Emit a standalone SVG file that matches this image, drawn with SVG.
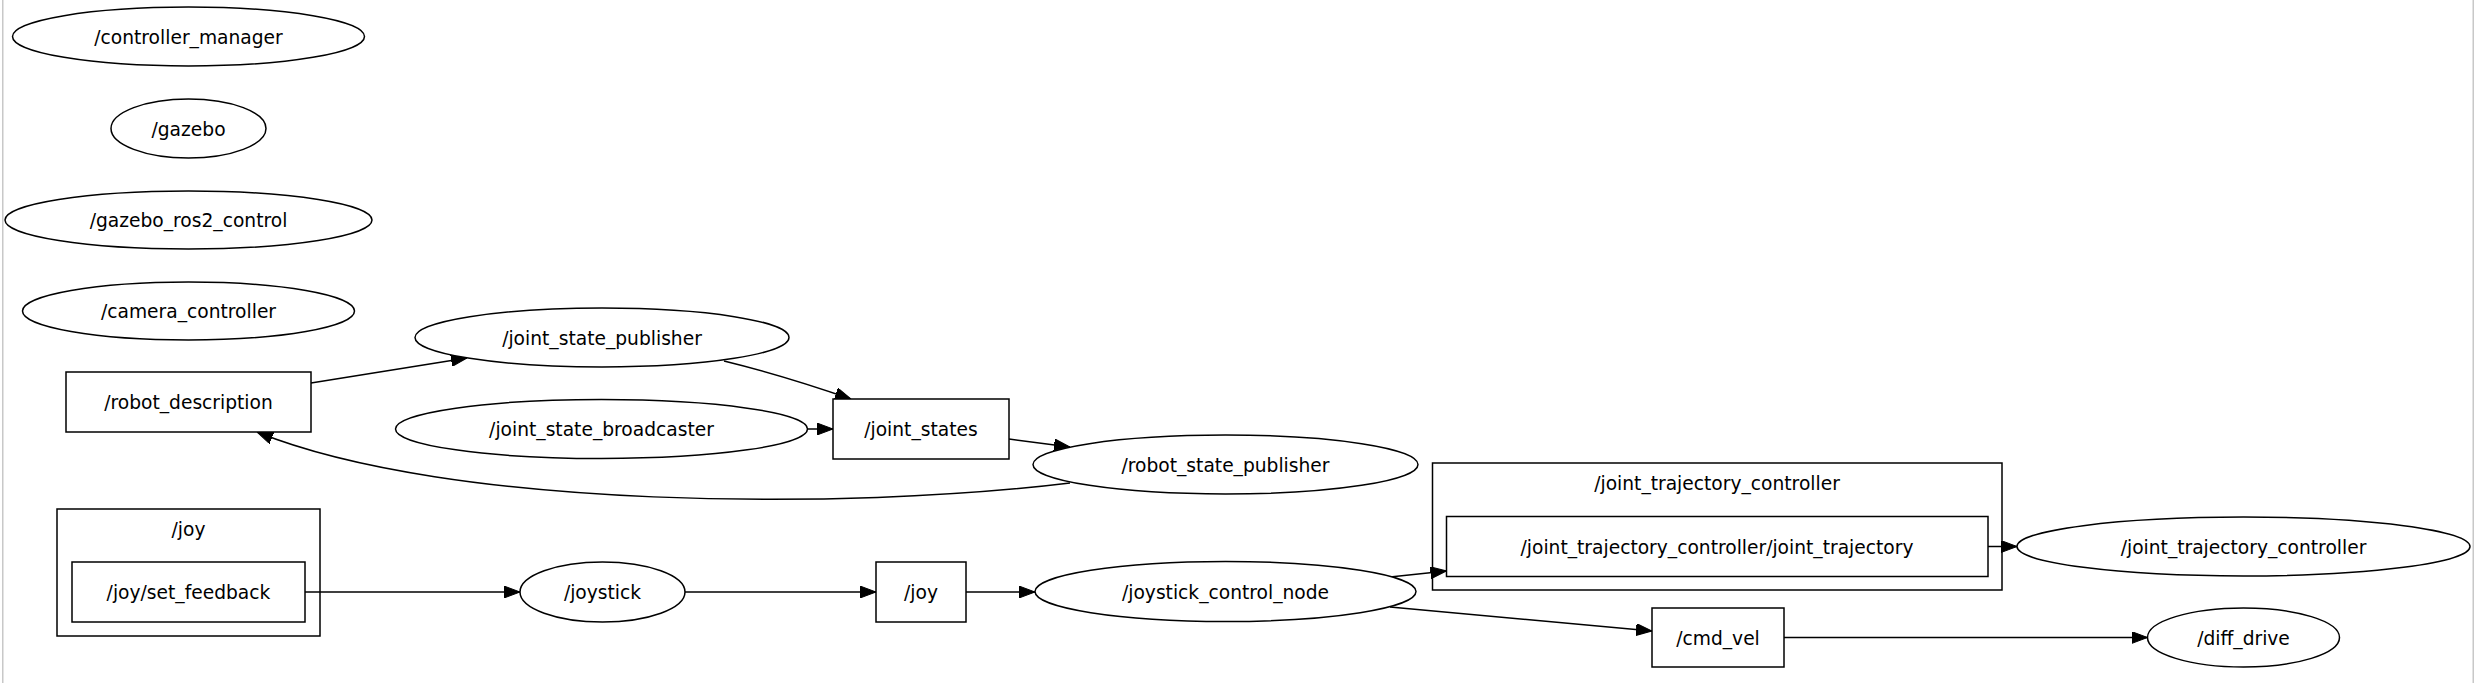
<svg xmlns="http://www.w3.org/2000/svg" width="2475" height="683" viewBox="0 0 2475 683">
<style>
.n{fill:#fff;stroke:#000;stroke-width:1.5}
.c{fill:none;stroke:#000;stroke-width:1.5}
.t{font-family:"DejaVu Sans",sans-serif;font-size:18.67px;fill:#000;text-anchor:middle}
.e{fill:none;stroke:#000;stroke-width:1.5;marker-end:url(#ah)}
</style>
<defs>
<marker id="ah" viewBox="0 0 16 12" refX="16" refY="6" markerWidth="16" markerHeight="12" markerUnits="userSpaceOnUse" orient="auto">
<path d="M0,0 L16,6 L0,12 z" fill="#000" stroke="#000" stroke-width="1"/>
</marker>
</defs>
<rect x="0" y="0" width="2475" height="683" fill="#fff"/>
<rect x="2" y="0" width="1.5" height="683" fill="#c8c8c8"/>
<rect x="2472.5" y="0" width="1.5" height="683" fill="#c8c8c8"/>

<g id="cluster_joy">
<rect class="c" x="57" y="509" width="263" height="127"/>
<text class="t" x="188.5" y="536">/joy</text>
</g>
<g id="cluster_jtc">
<rect class="c" x="1432.5" y="463" width="569.5" height="127"/>
<text class="t" x="1717" y="490">/joint_trajectory_controller</text>
</g>

<g id="edges">
<path class="e" d="M311,383 L467,358"/>
<path class="e" d="M724,361 C765,371 805,383 851,399"/>
<path class="e" d="M807.5,429 L833,429"/>
<path class="e" d="M1009,439 L1070,447"/>
<path class="e" d="M1070,483 C850,510 450,510 257,432"/>
<path class="e" d="M305,592 L520,592"/>
<path class="e" d="M685,592 L876,592"/>
<path class="e" d="M966,592 L1035,592"/>
<path class="e" d="M1390,577 L1446.5,571"/>
<path class="e" d="M1390,607 L1652,631"/>
<path class="e" d="M1988,546.5 L2017,546.5"/>
<path class="e" d="M1784,637.5 L2147.5,637.5"/>
</g>

<g id="controller_manager"><ellipse class="n" cx="188.5" cy="36.5" rx="176" ry="29.5"/><text class="t" x="188.5" y="43.5">/controller_manager</text></g>
<g id="gazebo"><ellipse class="n" cx="188.5" cy="128.5" rx="77.5" ry="29.5"/><text class="t" x="188.5" y="135.5">/gazebo</text></g>
<g id="gazebo_ros2_control"><ellipse class="n" cx="188.5" cy="220" rx="183.5" ry="29"/><text class="t" x="188.5" y="227">/gazebo_ros2_control</text></g>
<g id="camera_controller"><ellipse class="n" cx="188.5" cy="311" rx="166" ry="29"/><text class="t" x="188.5" y="318">/camera_controller</text></g>
<g id="robot_description"><rect class="n" x="66" y="372" width="245" height="60"/><text class="t" x="188.5" y="409">/robot_description</text></g>
<g id="joint_state_publisher"><ellipse class="n" cx="602" cy="337.5" rx="187" ry="29.5"/><text class="t" x="602" y="344.5">/joint_state_publisher</text></g>
<g id="joint_state_broadcaster"><ellipse class="n" cx="601.5" cy="429" rx="206" ry="29.5"/><text class="t" x="601.5" y="436">/joint_state_broadcaster</text></g>
<g id="joint_states"><rect class="n" x="833" y="399" width="176" height="60"/><text class="t" x="921" y="436">/joint_states</text></g>
<g id="robot_state_publisher"><ellipse class="n" cx="1225.5" cy="464.5" rx="192.5" ry="29.5"/><text class="t" x="1225.5" y="471.5">/robot_state_publisher</text></g>
<g id="joy_set_feedback"><rect class="n" x="72" y="562" width="233" height="60"/><text class="t" x="188.5" y="599">/joy/set_feedback</text></g>
<g id="joystick"><ellipse class="n" cx="602.5" cy="592" rx="82.5" ry="30"/><text class="t" x="602.5" y="599">/joystick</text></g>
<g id="joy"><rect class="n" x="876" y="562" width="90" height="60"/><text class="t" x="921" y="599">/joy</text></g>
<g id="joystick_control_node"><ellipse class="n" cx="1225.5" cy="591.5" rx="190.5" ry="30"/><text class="t" x="1225.5" y="598.5">/joystick_control_node</text></g>
<g id="joint_trajectory_topic"><rect class="n" x="1446.5" y="516.5" width="541.5" height="60"/><text class="t" x="1717" y="553.5">/joint_trajectory_controller/joint_trajectory</text></g>
<g id="joint_trajectory_controller"><ellipse class="n" cx="2243.5" cy="546.5" rx="226.5" ry="29.5"/><text class="t" x="2243.5" y="553.5">/joint_trajectory_controller</text></g>
<g id="cmd_vel"><rect class="n" x="1652" y="608" width="132" height="59"/><text class="t" x="1718" y="644.5">/cmd_vel</text></g>
<g id="diff_drive"><ellipse class="n" cx="2243.5" cy="637.5" rx="96" ry="29.5"/><text class="t" x="2243.5" y="644.5">/diff_drive</text></g>
</svg>
